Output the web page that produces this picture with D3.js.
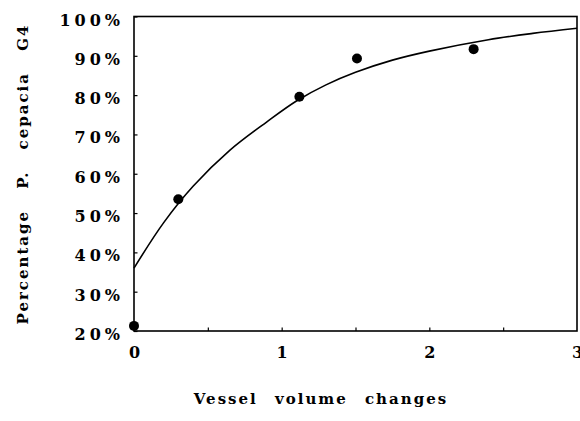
<!DOCTYPE html>
<html><head><meta charset="utf-8">
<script src="https://cdn.jsdelivr.net/npm/d3@7"></script>
<style>html,body{margin:0;padding:0;background:#fff}</style>
</head><body>
<svg id="c" width="580" height="421"></svg>
<script>
// Observed data points
const pointX = [0, 0.30, 1.12, 1.51, 2.30];
const pointY = [21.3, 53.5, 79.6, 89.3, 91.7];
// Fitted curve
const curveX = [0, 0.2, 0.4, 0.65, 0.9, 1.1, 1.3, 1.5, 1.75, 2.0, 2.4, 2.7, 3.0];
const curveY = [36, 47.5, 56.8, 66.0, 73.2, 78.5, 82.6, 85.8, 88.9, 91.2, 94.1, 95.7, 97.0];
const yTicks = [20, 30, 40, 50, 60, 70, 80, 90, 100];
const xTicks = [0, 1, 2, 3];
const xMinor = [0.5, 1, 1.5, 2, 2.5];
const xTitle = "Vessel volume changes";
const yTitle = "Percentage P. cepacia G4";

const svg = d3.select("#c");
const L = 134, R = 577, T = 16.5, B = 331;
const x = d3.scaleLinear().domain([0, 3]).range([L, R]);
const y = d3.scaleLinear().domain([20, 100]).range([B, T]);
const serif = "'DejaVu Serif','Liberation Serif',serif";

// frame
svg.append("rect").attr("x", L).attr("y", T).attr("width", R - L).attr("height", B - T)
  .attr("fill", "none").attr("stroke", "#000").attr("stroke-width", 1.6);

// y axis
const ya = svg.append("g").attr("transform", `translate(${L},0)`)
  .call(d3.axisLeft(y).tickValues(yTicks).tickSize(-3.5).tickFormat(d => d + "%"));
ya.select(".domain").remove();
ya.selectAll("line").attr("stroke-width", 1.2);
ya.selectAll("text").attr("font-family", serif).attr("font-weight", "bold")
  .attr("font-size", 16).attr("letter-spacing", 4)
  .attr("x", -10).attr("y", 8.5).attr("dy", 0);

// x axis
const xa = svg.append("g").attr("transform", `translate(0,${B})`)
  .call(d3.axisBottom(x).tickValues(xMinor).tickSize(-3.5).tickFormat(""));
xa.select(".domain").remove();
xa.selectAll("line").attr("stroke-width", 1.2);
const xl = svg.append("g").attr("transform", `translate(0,${B})`)
  .call(d3.axisBottom(x).tickValues(xTicks).tickSize(0).tickFormat(d3.format("d")));
xl.select(".domain").remove();
xl.selectAll("text").attr("font-family", serif).attr("font-size", 16).attr("font-weight", "bold")
  .attr("y", 27).attr("dy", 0);

// curve
const line = d3.line().x(d => x(d[0])).y(d => y(d[1])).curve(d3.curveCatmullRom);
svg.append("path").datum(curveX.map((v, i) => [v, curveY[i]]))
  .attr("d", line).attr("fill", "none").attr("stroke", "#000").attr("stroke-width", 1.6);

// points
svg.selectAll("circle.pt").data(pointX.map((v, i) => [v, pointY[i]])).enter()
  .append("circle").attr("class", "pt")
  .attr("cx", d => x(d[0])).attr("cy", d => y(d[1])).attr("r", 5).attr("fill", "#000");

// titles
svg.append("text").attr("x", 321).attr("y", 404).attr("text-anchor", "middle")
  .attr("font-family", serif).attr("font-weight", "bold").attr("font-size", 15)
  .attr("letter-spacing", 2).attr("word-spacing", 10).text(xTitle);
svg.append("text").attr("transform", "translate(28,174) rotate(-90)").attr("text-anchor", "middle")
  .attr("font-family", serif).attr("font-weight", "bold").attr("font-size", 15)
  .attr("letter-spacing", 2).attr("word-spacing", 14).text(yTitle);
</script>
</body></html>
